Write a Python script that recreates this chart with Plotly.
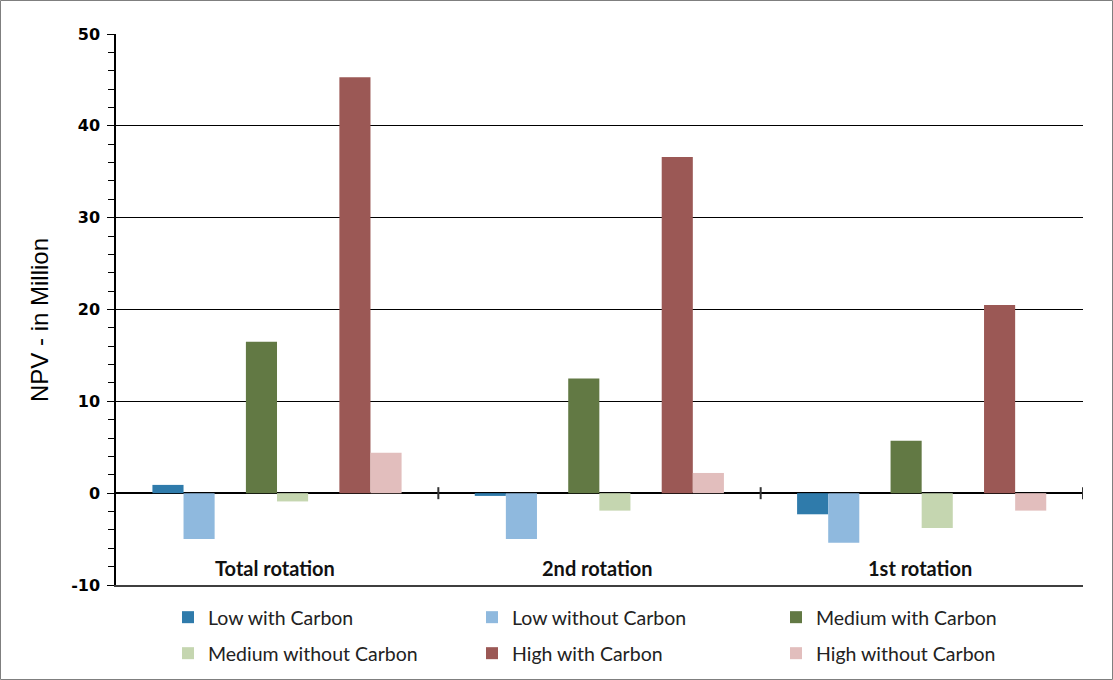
import plotly.graph_objects as go

categories = ["Total rotation", "2nd rotation", "1st rotation"]
series_names = ["Low with Carbon", "Low without Carbon", "Medium with Carbon",
                "Medium without Carbon", "High with Carbon", "High without Carbon"]
low_with = [0.9, -0.3, -2.3]
low_without = [-5.0, -5.0, -5.4]
medium_with = [16.5, 12.5, 5.7]
medium_without = [-0.9, -1.9, -3.8]
high_with = [45.3, 36.6, 20.5]
high_without = [4.4, 2.2, -1.9]
y_ticks = [-10, 0, 10, 20, 30, 40, 50]
y_tick_labels = ["-10", "0", "10", "20", "30", "40", "50"]

series_values = [low_with, low_without, medium_with, medium_without, high_with, high_without]
colors = ["#2F7BAB", "#8FB9DE", "#627944", "#C5D6B0", "#9B5855", "#E2BEBD"]

W, H = 1113, 680
ML, MR, MT, MB = 116, 30, 34, 95
PW, PH = W - ML - MR, H - MT - MB

bar_w = 0.0965
pair_step = 0.29
start = -0.387

fig = go.Figure()
for i, (name, vals, col) in enumerate(zip(series_names, series_values, colors)):
    off = start + (i // 2) * pair_step + (i % 2) * bar_w
    fig.add_trace(go.Bar(
        x=categories, y=vals, name=name, marker=dict(color=col, line=dict(width=0)),
        width=bar_w, offset=off, legend="legend" if i < 3 else "legend2",
    ))

shapes = []
# tick marks at category boundaries on the zero line
for b in [0.5, 1.5, 2.5]:
    shapes.append(dict(type="line", xref="x", yref="y", ysizemode="pixel", yanchor=0,
                       x0=b, x1=b, y0=-6, y1=6, line=dict(color="#333333", width=2)))
# outer border
shapes.append(dict(type="rect", xref="paper", yref="paper",
                   x0=(0.5 - ML) / PW, x1=(W - 0.5 - ML) / PW,
                   y0=-(MB - 0.5) / PH, y1=1 + (MT - 0.5) / PH,
                   line=dict(color="#7F7F7F", width=1), layer="below"))

annotations = []
for c in categories:
    annotations.append(dict(x=c, y=-(568 - 585) / PH, xref="x", yref="paper", text=c,
                            showarrow=False, xanchor="center", yanchor="middle", xshift=-2,
                            font=dict(family="Lato, Open Sans, sans-serif", size=20,
                                      color="#111111", weight="bold")))
annotations.append(dict(x=(39 - ML) / PW, y=(585 - 320) / PH, xref="paper", yref="paper",
                        text="NPV - in Million", textangle=-90, showarrow=False,
                        xanchor="center", yanchor="middle",
                        font=dict(family="Liberation Sans, Arial, sans-serif", size=24,
                                  color="#000000")))

legend_font = dict(family="Lato, Open Sans, sans-serif", size=19.5, color="#222222")
leg_common = dict(orientation="h", xanchor="left", yanchor="top", entrywidth=259,
                  entrywidthmode="pixels", font=legend_font, traceorder="normal",
                  bgcolor="rgba(0,0,0,0)")

fig.update_layout(
    width=W, height=H,
    margin=dict(l=ML, r=MR, t=MT, b=MB, autoexpand=False),
    paper_bgcolor="white", plot_bgcolor="white",
    barmode="overlay",
    showlegend=True,
    shapes=shapes,
    annotations=annotations,
    legend=dict(x=(168 - ML) / PW, y=-(598 - 585) / PH, **leg_common),
    legend2=dict(x=(168 - ML) / PW, y=-(634 - 585) / PH, **leg_common),
    xaxis=dict(range=[-0.5, 2.5], showgrid=False, showline=True, linecolor="#3F3F3F",
               linewidth=2, mirror=False, ticks="", showticklabels=False,
               zeroline=False, fixedrange=True, automargin=False),
    yaxis=dict(range=[-10, 50], tickvals=y_ticks, ticktext=y_tick_labels, showgrid=True,
               gridcolor="#000000",
               gridwidth=1, zeroline=True, zerolinecolor="#000000", zerolinewidth=1.5,
               showline=True, linecolor="#000000", linewidth=1.5, automargin=False,
               ticks="outside", ticklen=7, tickcolor="#000000", tickwidth=1,
               minor=dict(dtick=2, ticks="outside", ticklen=6, tickcolor="#000000", tickwidth=1,
                          showgrid=False),
               ticklabelstandoff=4,
               tickfont=dict(family="DejaVu Sans, Verdana, sans-serif", size=16, color="#000000",
                             weight="bold")),
)

fig.write_html("out.html", config={"displayModeBar": False},
               post_script="document.body.style.margin='0px';document.body.style.overflow='hidden';")
